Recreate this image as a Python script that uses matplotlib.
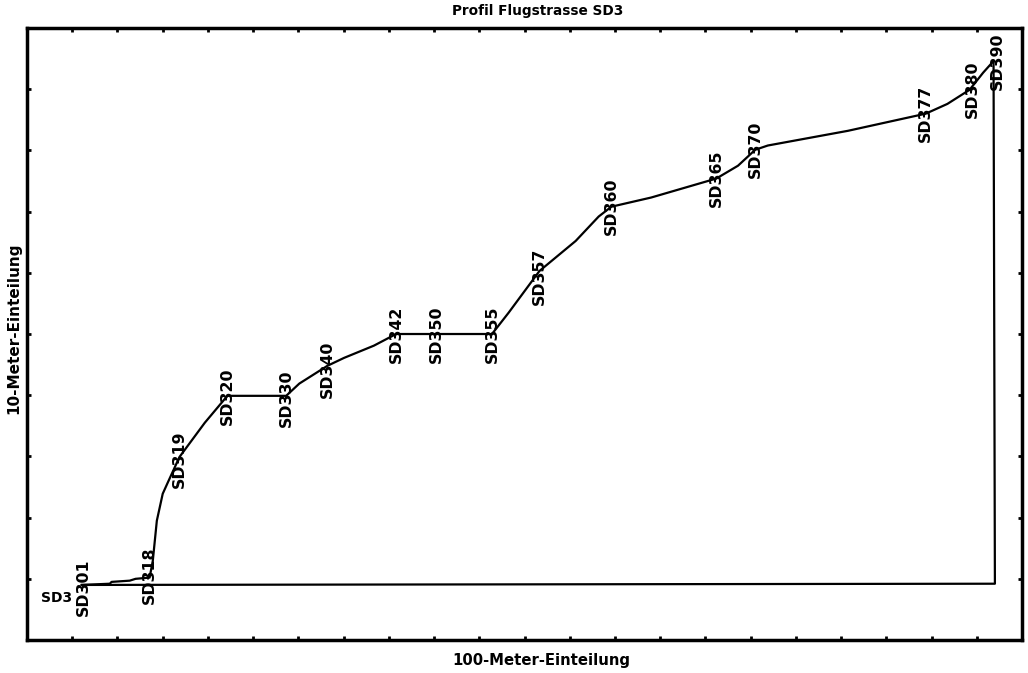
import matplotlib
matplotlib.use("Agg")
import matplotlib.pyplot as plt


# Profil der Flugstrasse SD3 (x in 100 m, y in 10 m)

profil_x = [1.21, 1.83, 1.87, 2.27, 2.40, 2.71, 2.78, 2.87, 3.00, 3.11,
            3.37, 3.93, 4.43, 5.73, 6.02, 6.64, 7.01, 7.67, 8.16, 9.04,
            10.28, 10.65, 11.33, 12.13, 12.64, 12.92, 13.80, 15.24, 15.72, 16.10,
            16.38, 18.15, 19.87, 20.35, 20.84, 21.14, 21.37]
profil_y = [-0.10, -0.08, -0.05, -0.03, 0.00, 0.02, 0.29, 0.95, 1.39, 1.57,
            1.99, 2.55, 2.99, 2.99, 3.19, 3.48, 3.61, 3.81, 4.00, 4.00,
            4.00, 4.35, 5.03, 5.52, 5.92, 6.08, 6.23, 6.54, 6.75, 7.01,
            7.08, 7.32, 7.60, 7.76, 7.99, 8.27, 8.46]

# Grundlinie zurueck zum Startpunkt
basis_x = [21.37, 21.40, 1.21]
basis_y = [8.46, -0.08, -0.10]

# Stationen und ihre Punkte im Profil
stationen = ["SD301", "SD318", "SD319", "SD320", "SD330", "SD340", "SD342",
             "SD350", "SD355", "SD357", "SD360", "SD365", "SD370", "SD377",
             "SD380", "SD390"]
station_x = [1.25, 2.71, 3.37, 4.43, 5.73, 6.64, 8.16, 9.04, 10.28, 11.33,
             12.92, 15.24, 16.10, 19.87, 20.90, 21.46]
station_y = [-0.13, 0.06, 1.95, 2.99, 2.95, 3.42, 4.00, 4.00, 4.00, 4.95,
             6.08, 6.54, 7.01, 7.60, 8.00, 8.46]

x_ticks = list(range(1, 22))
y_ticks = list(range(0, 9))


fig = plt.figure(figsize=(10.28, 6.73), dpi=100)
ax = fig.add_axes([0.0263, 0.049, 0.9679, 0.9094])

ax.plot(profil_x, profil_y, color="black", lw=1.6)
ax.plot(basis_x, basis_y, color="black", lw=1.6)

for name, sx, sy in zip(stationen, station_x, station_y):
    ax.text(sx, sy, name, rotation=90, ha="center", va="center",
            fontsize=11.3, fontweight="bold", color="black")

ax.annotate("SD3", (profil_x[0], profil_y[0]), xytext=(-18, -9.5),
            textcoords="offset points", ha="center", va="center",
            fontsize=10, fontweight="bold", color="black")

ax.set_xlim(0, 22)
ax.set_ylim(-1, 9)
ax.set_xticks(x_ticks)
ax.set_yticks(y_ticks)
ax.tick_params(direction="in", length=3, width=2, top=True, right=True,
               labelbottom=False, labelleft=False)
for sp in ax.spines.values():
    sp.set_linewidth(2.5)

ax.text(0.513, 1.027, "Profil Flugstrasse SD3", transform=ax.transAxes,
        ha="center", va="center", fontsize=9.8, fontweight="bold")
ax.text(0.517, -0.033, "100-Meter-Einteilung", transform=ax.transAxes,
        ha="center", va="center", fontsize=10.7, fontweight="bold")
ax.text(-0.013, 0.51, "10-Meter-Einteilung", transform=ax.transAxes,
        ha="center", va="center", rotation=90, fontsize=11, fontweight="bold")

fig.savefig("out.png", dpi=100)
